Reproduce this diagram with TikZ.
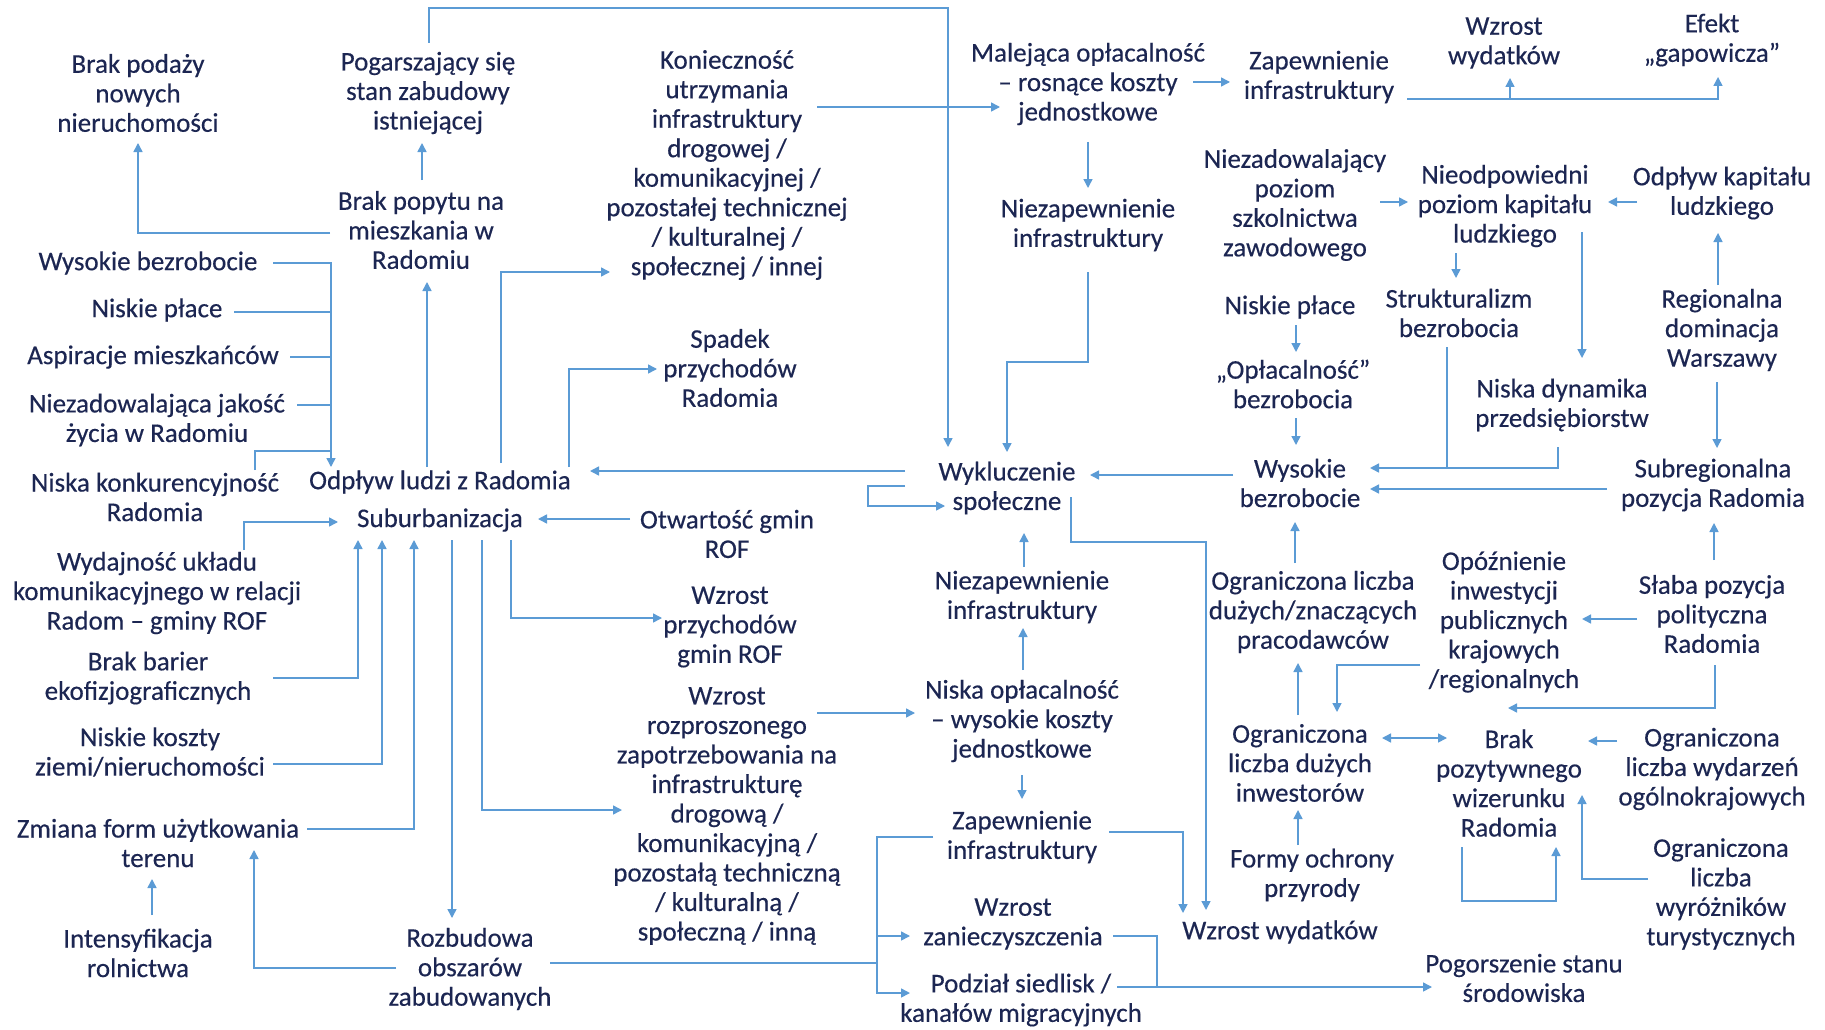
\documentclass[tikz,border=0pt]{standalone}
\usepackage{fontspec}
\setmainfont{Carlito}[FakeBold=0.35]
\usetikzlibrary{arrows.meta}
\definecolor{txt}{HTML}{1C2652}
\definecolor{ln}{HTML}{5B9BD5}
\begin{document}
\begin{tikzpicture}[x=1pt,y=-1pt,
  lbl/.style={align=center,text=txt,inner sep=0pt,font=\fontsize{27}{29.5}\selectfont},
  arr/.style={draw=ln,line width=1.5pt,-{Triangle[length=9pt,width=9pt]}},
  conn/.style={draw=ln,line width=1.5pt},
  darr/.style={draw=ln,line width=1.5pt,{Triangle[length=9pt,width=9pt]}-{Triangle[length=9pt,width=9pt]}}]
\useasboundingbox (0,0) rectangle (1825,1030);
\fill[white] (0,0) rectangle (1825,1030);
% ---------- nodes ----------
\node[lbl] (podazy) at (138,93) {Brak podaży\\nowych\\nieruchomości};
\node[lbl] (pogar) at (428,93) {Pogarszający się\\stan zabudowy\\istniejącej};
\node[lbl] (konie) at (727,165) {Konieczność\\utrzymania\\infrastruktury\\drogowej /\\komunikacyjnej /\\pozostałej technicznej\\/ kulturalnej /\\społecznej / innej};
\node[lbl] (malej) at (1088,84) {Malejąca opłacalność\\– rosnące koszty\\jednostkowe};
\node[lbl] (zapew1) at (1319,77) {Zapewnienie\\infrastruktury};
\node[lbl] (wyd1) at (1504,43) {Wzrost\\wydatków};
\node[lbl] (efekt) at (1712,40) {Efekt\\„gapowicza”};
\node[lbl] (niezap1) at (1088,225) {Niezapewnienie\\infrastruktury};
\node[lbl] (szkol) at (1295,205) {Niezadowalający\\poziom\\szkolnictwa\\zawodowego};
\node[lbl] (kapit) at (1505,206) {Nieodpowiedni\\poziom kapitału\\ludzkiego};
\node[lbl] (odkap) at (1722,193) {Odpływ kapitału\\ludzkiego};
\node[lbl] (struk) at (1459,313) {Strukturalizm\\bezrobocia};
\node[lbl] (plac2) at (1290,307) {Niskie płace};
\node[lbl] (regio) at (1722,330) {Regionalna\\dominacja\\Warszawy};
\node[lbl] (oplac) at (1293,384) {„Opłacalność”\\bezrobocia};
\node[lbl] (dynam) at (1562,405) {Niska dynamika\\przedsiębiorstw};
\node[lbl] (wykl) at (1007,488) {Wykluczenie\\społeczne};
\node[lbl] (wysb) at (1300,483) {Wysokie\\bezrobocie};
\node[lbl] (subr) at (1713,485) {Subregionalna\\pozycja Radomia};
\node[lbl] (niezap2) at (1022,597) {Niezapewnienie\\infrastruktury};
\node[lbl] (pracod) at (1313,612) {Ograniczona liczba\\dużych/znaczących\\pracodawców};
\node[lbl] (opozn) at (1504,622) {Opóźnienie\\inwestycji\\publicznych\\krajowych\\/regionalnych};
\node[lbl] (slaba) at (1712,614) {Słaba pozycja\\polityczna\\Radomia};
\node[lbl] (niskop) at (1022,721) {Niska opłacalność\\– wysokie koszty\\jednostkowe};
\node[lbl] (inwest) at (1300,763) {Ograniczona\\liczba dużych\\inwestorów};
\node[lbl] (wizer) at (1509,783) {Brak\\pozytywnego\\wizerunku\\Radomia};
\node[lbl] (wydarz) at (1712,769) {Ograniczona\\liczba wydarzeń\\ogólnokrajowych};
\node[lbl] (zapew2) at (1022,837) {Zapewnienie\\infrastruktury};
\node[lbl] (formy) at (1312,875) {Formy ochrony\\przyrody};
\node[lbl] (wyroz) at (1721,894) {Ograniczona\\liczba\\wyróżników\\turystycznych};
\node[lbl] (zaniecz) at (1013,924) {Wzrost\\zanieczyszczenia};
\node[lbl] (wyd2) at (1280,932) {Wzrost wydatków};
\node[lbl] (pogorsz) at (1524,978) {Pogorszenie stanu\\środowiska};
\node[lbl] (siedl) at (1021,1000) {Podział siedlisk /\\kanałów migracyjnych};
\node[lbl] (bezrob) at (148,263) {Wysokie bezrobocie};
\node[lbl] (plac1) at (157,310) {Niskie płace};
\node[lbl] (aspir) at (153,357) {Aspiracje mieszkańców};
\node[lbl] (jakosc) at (157,420) {Niezadowalająca jakość\\życia w Radomiu};
\node[lbl] (konk) at (155,497) {Niska konkurencyjność\\Radomia};
\node[lbl] (odplyw) at (440,482) {Odpływ ludzi z Radomia};
\node[lbl] (subur) at (440,520) {Suburbanizacja};
\node[lbl] (popyt) at (421,230) {Brak popytu na\\mieszkania w\\Radomiu};
\node[lbl] (spadek) at (730,368) {Spadek\\przychodów\\Radomia};
\node[lbl] (otwart) at (727,534) {Otwartość gmin\\ROF};
\node[lbl] (wydajn) at (157,593) {Wydajność układu\\komunikacyjnego w relacji\\Radom – gminy ROF};
\node[lbl] (bariery) at (148,678) {Brak barier\\ekofizjograficznych};
\node[lbl] (koszty) at (150,752) {Niskie koszty\\ziemi/nieruchomości};
\node[lbl] (zmiana) at (158,843) {Zmiana form użytkowania\\terenu};
\node[lbl] (intens) at (138,953) {Intensyfikacja\\rolnictwa};
\node[lbl] (rozbud) at (470,969) {Rozbudowa\\obszarów\\zabudowanych};
\node[lbl] (przychROF) at (730,627) {Wzrost\\przychodów\\gmin ROF};
\node[lbl] (rozpr) at (727,816) {Wzrost\\rozproszonego\\zapotrzebowania na\\infrastrukturę\\drogową /\\komunikacyjną /\\pozostałą techniczną\\/ kulturalną /\\społeczną / inną};
% ---------- connectors ----------
\draw[arr] ([shift={(-91,3)}]popyt.center) -| ([shift={(0,50)}]podazy.center);
\draw[arr] ([shift={(1,-50)}]popyt.center) -- ([shift={(-6,50)}]pogar.center);
\draw[arr] ([shift={(1,-50)}]pogar.center) -- ++(0,-35) -| ([shift={(-59,-41)}]wykl.center);
\draw[arr] ([shift={(90,-58)}]konie.center) -- ([shift={(-88,23)}]malej.center);
\draw[arr] ([shift={(61,-19)}]odplyw.center) |- ([shift={(-117,107)}]konie.center);
\draw[arr] ([shift={(105,-2)}]malej.center) -- ([shift={(-89,5)}]zapew1.center);
\draw[arr] ([shift={(0,58)}]malej.center) -- ([shift={(0,-37)}]niezap1.center);
\draw[arr] ([shift={(88,22)}]zapew1.center) -| ([shift={(6,37)}]efekt.center);
\draw[arr] ([shift={(6,56)}]wyd1.center) -- ([shift={(6,35)}]wyd1.center);
\draw[arr] ([shift={(0,47)}]niezap1.center) -- ++(0,90) -| ([shift={(0,-36)}]wykl.center);
\draw[arr] ([shift={(85,-3)}]szkol.center) -- ([shift={(-97,-4)}]kapit.center);
\draw[arr] ([shift={(-85,9)}]odkap.center) -- ([shift={(103,-4)}]kapit.center);
\draw[arr] ([shift={(-4,-45)}]regio.center) -- ([shift={(-4,40)}]odkap.center);
\draw[arr] ([shift={(-49,47)}]kapit.center) -- ([shift={(-3,-35)}]struk.center);
\draw[arr] ([shift={(77,26)}]kapit.center) -- ([shift={(20,-47)}]dynam.center);
\draw[arr] ([shift={(-12,34)}]struk.center) |- ([shift={(70,-15)}]wysb.center);
\draw[conn] ([shift={(-4,42)}]dynam.center) |- ([shift={(-12,155)}]struk.center);
\draw[arr] ([shift={(-106,4)}]subr.center) -- ([shift={(70,6)}]wysb.center);
\draw[arr] ([shift={(-5,52)}]regio.center) -- ([shift={(4,-37)}]subr.center);
\draw[arr] ([shift={(2,-54)}]slaba.center) -- ([shift={(1,38)}]subr.center);
\draw[arr] ([shift={(-75,5)}]slaba.center) -- ([shift={(78,-3)}]opozn.center);
\draw[arr] ([shift={(3,51)}]slaba.center) |- ([shift={(-1,-75)}]wizer.center);
\draw[arr] ([shift={(-84,43)}]opozn.center) -| ([shift={(37,-51)}]inwest.center);
\draw[arr] ([shift={(3,34)}]oplac.center) -- ([shift={(-4,-38)}]wysb.center);
\draw[arr] ([shift={(6,18)}]plac2.center) -- ([shift={(3,-32)}]oplac.center);
\draw[arr] ([shift={(-67,-8)}]wysb.center) -- ([shift={(83,-13)}]wykl.center);
\draw[arr] ([shift={(-102,-17)}]wykl.center) -- ([shift={(150,-11)}]odplyw.center);
\draw[arr] ([shift={(-102,-2)}]wykl.center) -- ++(-37,0) |- ([shift={(-62,18)}]wykl.center);
\draw[arr] ([shift={(64,9)}]wykl.center) -- ++(0,45) -| ([shift={(-74,-22)}]wyd2.center);
\draw[arr] ([shift={(2,-30)}]niezap2.center) -- ([shift={(17,45)}]wykl.center);
\draw[arr] ([shift={(1,-51)}]niskop.center) -- ([shift={(1,31)}]niezap2.center);
\draw[arr] ([shift={(-18,-49)}]pracod.center) -- ([shift={(-5,39)}]wysb.center);
\draw[arr] ([shift={(-2,-48)}]inwest.center) -- ([shift={(-15,51)}]pracod.center);
\draw[arr] ([shift={(90,-103)}]rozpr.center) -- ([shift={(-107,-8)}]niskop.center);
\draw[arr] ([shift={(0,54)}]niskop.center) -- ([shift={(0,-38)}]zapew2.center);
\draw[arr] ([shift={(87,-5)}]zapew2.center) -| ([shift={(-97,-19)}]wyd2.center);
\draw[arr] ([shift={(-89,0)}]zapew2.center) -- ++(-56,0) |- ([shift={(-111,-7)}]siedl.center);
\draw[arr] ([shift={(-136,12)}]zaniecz.center) -- ([shift={(-103,12)}]zaniecz.center);
\draw[conn] ([shift={(80,-6)}]rozbud.center) -- ([shift={(-144,-37)}]siedl.center);
\draw[conn] ([shift={(100,12)}]zaniecz.center) -| ([shift={(136,-13)}]siedl.center);
\draw[arr] ([shift={(96,-13)}]siedl.center) -- ([shift={(-92,9)}]pogorsz.center);
\draw[darr] ([shift={(82,-25)}]inwest.center) -- ([shift={(-62,-45)}]wizer.center);
\draw[arr] ([shift={(-95,-28)}]wydarz.center) -- ([shift={(79,-42)}]wizer.center);
\draw[arr] ([shift={(-73,-15)}]wyroz.center) -| ([shift={(73,12)}]wizer.center);
\draw[arr] ([shift={(-47,64)}]wizer.center) -- ++(0,54) -| ([shift={(47,64)}]wizer.center);
\draw[arr] ([shift={(-14,-30)}]formy.center) -- ([shift={(-2,47)}]inwest.center);
% left side
\draw[arr] ([shift={(125,0)}]bezrob.center) -| ([shift={(-109,-15)}]odplyw.center);
\draw[conn] ([shift={(77,2)}]plac1.center) -- ([shift={(-109,-170)}]odplyw.center);
\draw[conn] ([shift={(137,0)}]aspir.center) -- ([shift={(-109,-125)}]odplyw.center);
\draw[conn] ([shift={(140,-15)}]jakosc.center) -- ([shift={(-109,-77)}]odplyw.center);
\draw[conn] ([shift={(100,-27)}]konk.center) |- ([shift={(-109,-31)}]odplyw.center);
\draw[arr] ([shift={(-13,-15)}]odplyw.center) -- ([shift={(6,52)}]popyt.center);
\draw[arr] ([shift={(129,-15)}]odplyw.center) |- ([shift={(-73,1)}]spadek.center);
\draw[arr] ([shift={(87,-43)}]wydajn.center) |- ([shift={(-102,2)}]subur.center);
\draw[arr] ([shift={(125,0)}]bariery.center) -| ([shift={(-82,20)}]subur.center);
\draw[arr] ([shift={(123,12)}]koszty.center) -| ([shift={(-58,20)}]subur.center);
\draw[arr] ([shift={(149,-14)}]zmiana.center) -| ([shift={(-26,20)}]subur.center);
\draw[arr] ([shift={(12,20)}]subur.center) -- ([shift={(-18,-51)}]rozbud.center);
\draw[arr] ([shift={(71,20)}]subur.center) |- ([shift={(-68,-9)}]przychROF.center);
\draw[arr] ([shift={(42,20)}]subur.center) |- ([shift={(-105,-6)}]rozpr.center);
\draw[arr] ([shift={(-97,-15)}]otwart.center) -- ([shift={(98,-1)}]subur.center);
\draw[arr] ([shift={(14,-38)}]intens.center) -- ([shift={(-6,36)}]zmiana.center);
\draw[arr] ([shift={(-74,-1)}]rozbud.center) -| ([shift={(96,7)}]zmiana.center);
\end{tikzpicture}
\end{document}
